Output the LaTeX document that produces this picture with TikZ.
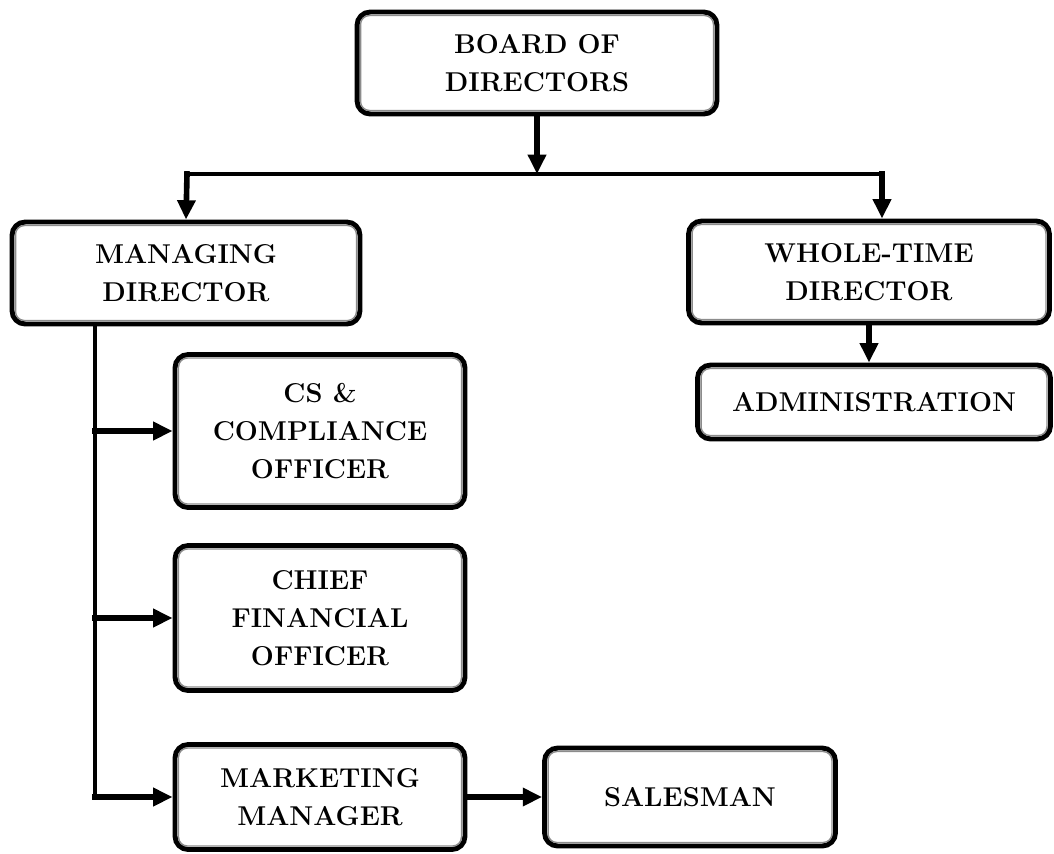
\documentclass[tikz,border=0pt]{standalone}
\usepackage{tikz}
\usetikzlibrary{arrows.meta,positioning,calc}

\tikzset{
  postbox/.style={draw=black, line width=2.8pt, rounded corners=7.5pt, fill=white,
    align=center, inner sep=2pt,
    font=\fontsize{15.5}{21.5}\selectfont\bfseries},
  innerline/.style={draw=black!45, line width=0.8pt, rounded corners=5pt},
  stem/.style={line width=3.2pt, line cap=rect, -{Triangle[length=11pt,width=10pt]}},
  busline/.style={line width=2.2pt, line cap=rect}
}

\begin{document}
\begin{tikzpicture}[x=0.02cm,y=-0.02cm]
				\useasboundingbox (0,0) rectangle (1054,853);
				
				% Draw the posts
				\node[postbox, minimum width=7.2cm, minimum height=2.04cm] (board) at (537,63) {BOARD OF\\DIRECTORS};
				\node[postbox, minimum width=6.96cm, minimum height=2.04cm] (md) at (186,273) {MANAGING\\DIRECTOR};
				\node[postbox, minimum width=7.22cm, minimum height=2.04cm] (wtd) at (869,272) {WHOLE-TIME\\DIRECTOR};
				\node[postbox, minimum width=7.06cm, minimum height=1.48cm] (admin) at (874,402) {ADMINISTRATION};
				\node[postbox, minimum width=5.8cm, minimum height=3.06cm] (cs) at (320,431) {CS \&\\COMPLIANCE\\OFFICER};
				\node[postbox, minimum width=5.8cm, minimum height=2.9cm] (cfo) at (320,618) {CHIEF\\FINANCIAL\\OFFICER};
				\node[postbox, minimum width=5.8cm, minimum height=2.1cm] (mm) at (320,797) {MARKETING\\MANAGER};
				\node[postbox, minimum width=5.82cm, minimum height=1.96cm] (sales) at (690,797) {SALESMAN};
				
				% Inner outline of every post
				\foreach \post in {board,md,wtd,admin,cs,cfo,mm,sales}
				\draw[innerline] ([shift={(3.4pt,3.4pt)}]\post.south west) rectangle ([shift={(-3.4pt,-3.4pt)}]\post.north east);
				
				% Draw the bus below the board
				\coordinate (busL) at (187,174);
				\coordinate (busR) at (882,174);
				\coordinate (trunk) at (95,797);
				
				\draw[stem] (board.south) -- (board.south |- busL);
				\draw[busline] (busL) -- (busR);
				\draw[stem] (busL) -- (md.north);
				\draw[stem] (busR) -- (busR |- wtd.north);
				\draw[stem] (wtd.south) -- (wtd.south |- admin.north);
				
				% Draw connections below the managing director
				\draw[busline] (md.south -| trunk) -- (trunk);
				\draw[stem] (trunk |- cs.west) -- (cs.west);
				\draw[stem] (trunk |- cfo.west) -- (cfo.west);
				\draw[stem] (trunk) -- (mm.west);
				\draw[stem] (mm.east) -- (sales.west);
			\end{tikzpicture}
\end{document}
